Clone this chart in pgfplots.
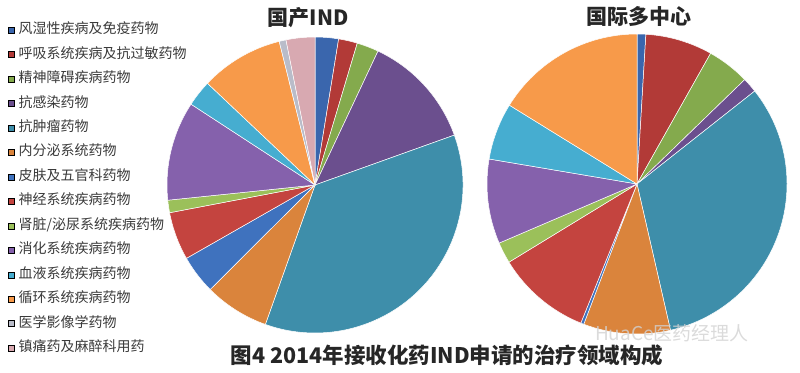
\documentclass[border=0pt]{standalone}
\usepackage{pgfplots}
\pgfplotsset{compat=1.18}
\usepackage{fontspec}
\setmainfont{Noto Sans CJK SC}
\definecolor{c1}{HTML}{3A66AD}
\definecolor{c2}{HTML}{B23A37}
\definecolor{c3}{HTML}{84AA4D}
\definecolor{c4}{HTML}{6B4F8E}
\definecolor{c5}{HTML}{3E8EAA}
\definecolor{c6}{HTML}{DA843C}
\definecolor{c7}{HTML}{3F72BE}
\definecolor{c8}{HTML}{C4443F}
\definecolor{c9}{HTML}{9BC05A}
\definecolor{c10}{HTML}{8561AC}
\definecolor{c11}{HTML}{46ADD0}
\definecolor{c12}{HTML}{F79A4A}
\definecolor{c13}{HTML}{B9BCC9}
\definecolor{c14}{HTML}{D8A9B1}
\definecolor{textgray}{HTML}{3A3A3A}
\newcommand{\R}{148pt}
% slice from angle #1 to #2 (degrees clockwise from 12 o'clock)
\newcommand{\slice}[3]{\fill[#3, draw=white, line width=0.5pt] (axis cs:0,0) -- ++({90-#1}:\R) arc[start angle={90-#1}, end angle={90-#2}, radius=\R] -- cycle;}
\begin{document}
\begin{tikzpicture}
\path[use as bounding box] (0pt,0pt) rectangle (800pt,-372pt);
% ---- pie 1: domestic IND ----
\begin{axis}[hide axis, disabledatascaling, x=148pt, y=148pt,
  xmin=-1, xmax=1, ymin=-1, ymax=1, anchor=center, at={(315pt,-185pt)}, clip=false,
  legend cell align=left,
  legend image code/.code={\fill[#1] (0pt,-3pt) rectangle (6pt,3pt); \path (10pt,0pt);},
  legend style={at={(-0.5372,1.0456)}, anchor=north west, draw=none, fill=none,
    inner sep=0pt, font=\fontsize{14}{16}\selectfont, text=textgray, row sep=11.45pt,
    nodes={inner sep=0pt, text height=10pt, text depth=3pt}}]
\addlegendimage{fill=c1}\addlegendentry{风湿性疾病及免疫药物}
\addlegendimage{fill=c2}\addlegendentry{呼吸系统疾病及抗过敏药物}
\addlegendimage{fill=c3}\addlegendentry{精神障碍疾病药物}
\addlegendimage{fill=c4}\addlegendentry{抗感染药物}
\addlegendimage{fill=c5}\addlegendentry{抗肿瘤药物}
\addlegendimage{fill=c6}\addlegendentry{内分泌系统药物}
\addlegendimage{fill=c7}\addlegendentry{皮肤及五官科药物}
\addlegendimage{fill=c8}\addlegendentry{神经系统疾病药物}
\addlegendimage{fill=c9}\addlegendentry{肾脏/泌尿系统疾病药物}
\addlegendimage{fill=c10}\addlegendentry{消化系统疾病药物}
\addlegendimage{fill=c11}\addlegendentry{血液系统疾病药物}
\addlegendimage{fill=c12}\addlegendentry{循环系统疾病药物}
\addlegendimage{fill=c13}\addlegendentry{医学影像学药物}
\addlegendimage{fill=c14}\addlegendentry{镇痛药及麻醉科用药}
\slice{0}{9.2}{c1}
\slice{9.2}{16.6}{c2}
\slice{16.6}{25.2}{c3}
\slice{25.2}{70.3}{c4}
\slice{70.3}{199.6}{c5}
\slice{199.6}{225.1}{c6}
\slice{225.1}{240.3}{c7}
\slice{240.3}{259.2}{c8}
\slice{259.2}{264.1}{c9}
\slice{264.1}{303.1}{c10}
\slice{303.1}{313.4}{c11}
\slice{313.4}{346.0}{c12}
\slice{346.0}{348.7}{c13}
\slice{348.7}{360}{c14}
\end{axis}
% ---- pie 2: international multicentre ----
\begin{axis}[hide axis, disabledatascaling, x=150pt, y=150pt,
  xmin=-1, xmax=1, ymin=-1, ymax=1, anchor=center, at={(637pt,-184pt)}, clip=false]
\renewcommand{\R}{150pt}
\slice{0}{3.4}{c1}
\slice{3.4}{29.4}{c2}
\slice{29.4}{45.9}{c3}
\slice{45.9}{51.7}{c4}
\slice{51.7}{167.1}{c5}
\slice{167.1}{200.8}{c6}
\slice{200.8}{202.0}{c7}
\slice{202.0}{238.6}{c8}
\slice{238.6}{246.8}{c9}
\slice{246.8}{279.6}{c10}
\slice{279.6}{301.7}{c11}
\slice{301.7}{360}{c12}
\end{axis}
\node[font=\fontsize{21}{24}\selectfont\bfseries, text=black!85] at (308pt,-18pt) {国产IND};
\node[font=\fontsize{21}{24}\selectfont\bfseries, text=black!85] at (639pt,-17pt) {国际多中心};
\node[text=gray!35, font=\fontsize{19}{22}\selectfont, opacity=0.8] at (672pt,-333pt) {HuaCe医药经理人};
\node[font=\fontsize{21.5}{24}\selectfont\bfseries, text=black!85] at (447pt,-355pt) {图4 2014年接收化药IND申请的治疗领域构成};
\end{tikzpicture}
\end{document}
